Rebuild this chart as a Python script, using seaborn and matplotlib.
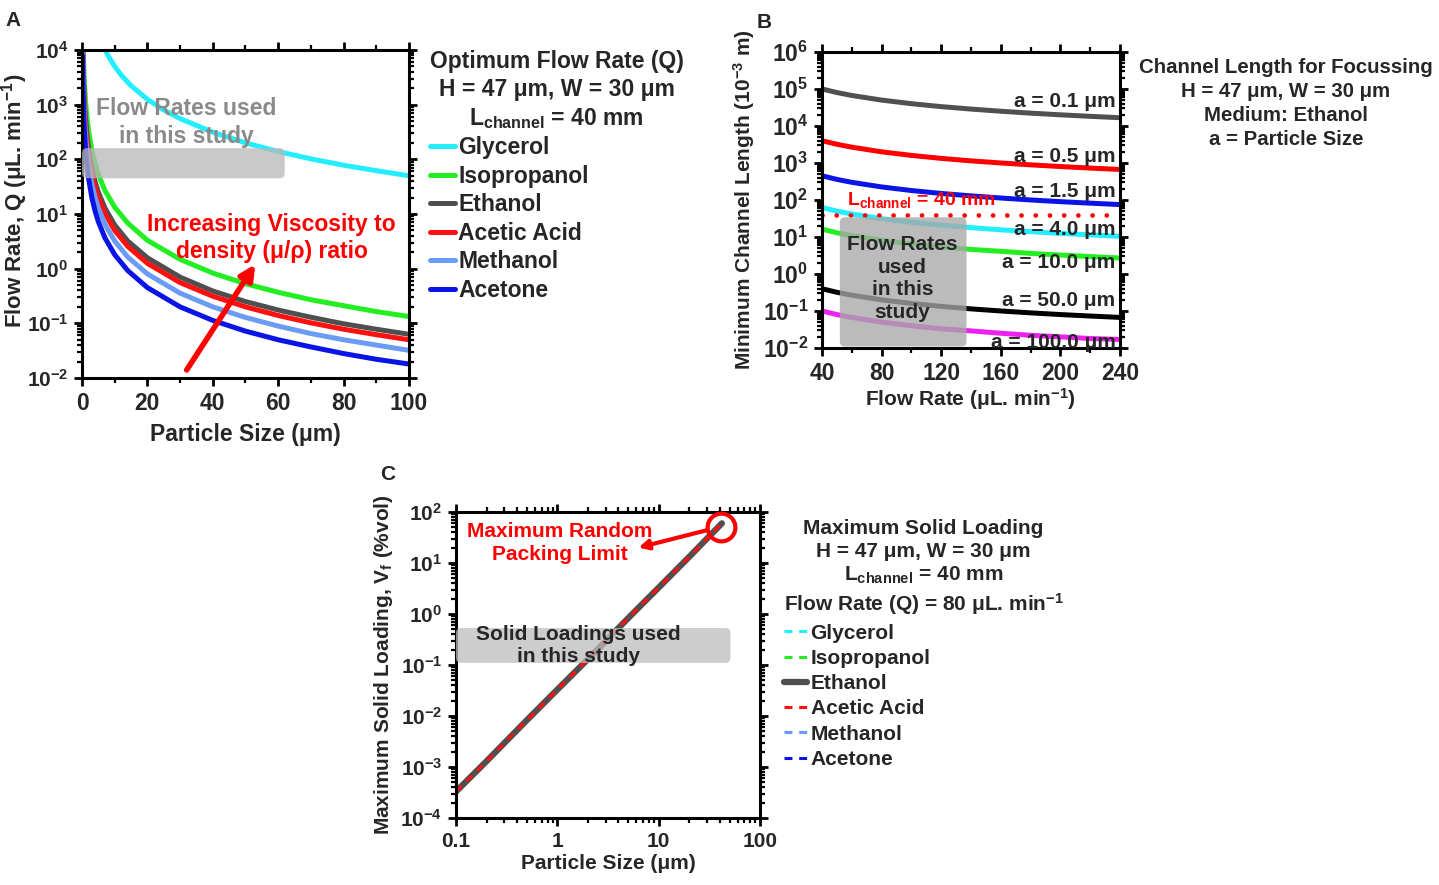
import numpy as np
import pandas as pd
import matplotlib
matplotlib.use('Agg')
import matplotlib.pyplot as plt
import seaborn as sns
from matplotlib.patches import FancyBboxPatch
from matplotlib.transforms import IdentityTransform
from matplotlib.lines import Line2D
from matplotlib.ticker import LogLocator, MultipleLocator, FuncFormatter, NullFormatter

# ---- panel A: optimum flow rate vs particle size ----
liquids = ['Glycerol', 'Isopropanol', 'Ethanol', 'Acetic Acid', 'Methanol', 'Acetone']
liquid_colors = ['#22eeff', '#22ee22', '#4f4f4f', '#ff1010', '#6a9cf5', '#0a14e6']

size_glycerol = [7, 8, 10, 12, 15, 20, 25, 30, 40, 50, 60, 70, 80, 90, 100]
q_glycerol = [10200, 7800, 5000, 3470, 2220, 1250, 800, 556, 313, 200, 139, 102, 78, 62, 50]

size_ipa = [0.37, 0.5, 0.75, 1, 1.5, 2, 3, 4, 5, 7, 10, 14, 20, 30, 40, 50, 60, 70, 80, 90, 100]
q_ipa = [9700, 5320, 2360, 1330, 591, 333, 148, 83, 53, 27, 13.3, 6.8, 3.3, 1.48, 0.83,
         0.53, 0.37, 0.27, 0.21, 0.164, 0.133]

size_common = [0.15, 0.2, 0.3, 0.5, 0.75, 1, 1.5, 2, 3, 4, 5, 7, 10, 14, 20, 30, 40, 50,
               60, 70, 80, 90, 100]
q_ethanol = [28000, 15750, 7000, 2520, 1120, 630, 280, 158, 70, 39, 25, 12.9, 6.3, 3.2,
             1.58, 0.70, 0.39, 0.25, 0.175, 0.129, 0.098, 0.078, 0.063]
q_acetic = [22200, 12500, 5560, 2000, 889, 500, 222, 125, 55.6, 31.3, 20, 10.2, 5.0, 2.55,
            1.25, 0.556, 0.313, 0.2, 0.139, 0.102, 0.078, 0.062, 0.05]
q_methanol = [14200, 8000, 3560, 1280, 569, 320, 142, 80, 35.6, 20, 12.8, 6.5, 3.2, 1.63,
              0.8, 0.356, 0.2, 0.128, 0.089, 0.065, 0.05, 0.04, 0.032]
q_acetone = [8000, 4500, 2000, 720, 320, 180, 80, 45, 20, 11.3, 7.2, 3.67, 1.8, 0.92,
             0.45, 0.2, 0.113, 0.072, 0.05, 0.037, 0.028, 0.022, 0.018]

study_flow_a = [0, 62, 45, 160]   # x0, x1, y0, y1 of the shaded region

# ---- panel B: channel length vs flow rate ----
flow_b = [40, 50, 60, 80, 100, 120, 140, 160, 180, 200, 220, 240]
size_labels_b = ['a = 0.1 μm', 'a = 0.5 μm', 'a = 1.5 μm', 'a = 4.0 μm',
                 'a = 10.0 μm', 'a = 50.0 μm', 'a = 100.0 μm']
size_colors_b = ['#505050', '#ff0000', '#0a14e6', '#22eeff', '#22ee22', '#000000', '#ee22ee']
length_b = [
    [100000, 80000, 66700, 50000, 40000, 33300, 28600, 25000, 22200, 20000, 18200, 16700],
    [4000, 3200, 2670, 2000, 1600, 1330, 1140, 1000, 889, 800, 727, 667],
    [450, 360, 300, 225, 180, 150, 129, 113, 100, 90, 82, 75],
    [62.5, 50, 41.7, 31.3, 25, 20.8, 17.9, 15.6, 13.9, 12.5, 11.4, 10.4],
    [16.3, 13, 10.8, 8.1, 6.5, 5.4, 4.6, 4.1, 3.6, 3.25, 2.95, 2.7],
    [0.4, 0.32, 0.267, 0.2, 0.16, 0.133, 0.114, 0.1, 0.089, 0.08, 0.073, 0.067],
    [0.1, 0.08, 0.067, 0.05, 0.04, 0.033, 0.029, 0.025, 0.022, 0.02, 0.018, 0.017],
]
label_y_b = [46000, 1500, 168, 16, 2.1, 0.19, 0.014]
l_channel = 40
study_flow_b = [52, 137, 0.011, 34]

# ---- panel C: maximum solid loading ----
size_c = [0.1, 0.2, 0.5, 1, 2, 5, 10, 20, 42]
vf_c = [0.00033, 0.0013, 0.0083, 0.033, 0.13, 0.83, 3.3, 13.2, 60]
packing_limit = (41, 51)
study_loading_c = [0.1, 51, 0.11, 0.53]

sns.set_theme(style='ticks')
plt.rcParams['font.family'] = ['Liberation Sans', 'DejaVu Sans']
plt.rcParams['font.weight'] = 'bold'
plt.rcParams['axes.labelweight'] = 'bold'
plt.rcParams['mathtext.fontset'] = 'custom'
for k in ['rm', 'it', 'bf', 'sf']:
    plt.rcParams['mathtext.' + k] = 'Liberation Sans:bold'

fig = plt.figure(figsize=(14.39, 8.85), dpi=100)
axA = fig.add_axes([0.0570, 0.5729, 0.2272, 0.3706])
axB = fig.add_axes([0.5712, 0.6068, 0.2071, 0.3345])
axC = fig.add_axes([0.3169, 0.0757, 0.2113, 0.3458])

pow_fmt = FuncFormatter(lambda v, p: r'$\mathbf{10^{%d}}$' % int(round(np.log10(v))))


def style_axes(ax, fs):
    for s in ax.spines.values():
        s.set_linewidth(2.2)
        s.set_color('black')
        s.set_visible(True)
    ax.tick_params(which='both', direction='out', top=True, right=True,
                   width=2, color='black', labelsize=fs, pad=4)
    ax.tick_params(which='major', length=6)
    ax.tick_params(which='minor', length=3.5, width=1.6)


def log_y(ax):
    ax.set_yscale('log')
    ax.yaxis.set_major_locator(LogLocator(base=10, numticks=30))
    ax.yaxis.set_minor_locator(LogLocator(base=10, subs=np.arange(2, 10), numticks=300))
    ax.yaxis.set_major_formatter(pow_fmt)
    ax.yaxis.set_minor_formatter(NullFormatter())


def rounded_box(ax, x0, x1, y0, y1, color, alpha, z):
    (px0, py0), (px1, py1) = ax.transData.transform([(x0, y0), (x1, y1)])
    box = FancyBboxPatch((px0, py0), px1 - px0, py1 - py0,
                         boxstyle='round,pad=0,rounding_size=5',
                         transform=IdentityTransform(), facecolor=color,
                         edgecolor='none', alpha=alpha, zorder=z)
    ax.add_patch(box)


# ================= Panel A =================
FA = 16.5
ax = axA
log_y(ax)
series_a = [(size_glycerol, q_glycerol), (size_ipa, q_ipa), (size_common, q_ethanol),
            (size_common, q_acetic), (size_common, q_methanol), (size_common, q_acetone)]
handles_a = []
for name, col, (xs, ys) in zip(liquids, liquid_colors, series_a):
    sns.lineplot(x=xs, y=ys, ax=ax, color=col, lw=3.6, sort=False, estimator=None,
                 legend=False)
    ln = ax.lines[-1]
    ln.set_solid_capstyle('round')
    handles_a.append(ln)
ax.set_xlim(0, 100)
ax.set_ylim(1e-2, 1e4)
ax.xaxis.set_major_locator(MultipleLocator(20))
ax.xaxis.set_minor_locator(MultipleLocator(10))
style_axes(ax, FA)
ax.tick_params(axis='y', labelsize=15)
ax.set_xlabel('Particle Size (μm)', fontsize=FA, labelpad=6)
ax.set_ylabel(r'Flow Rate, Q (μL. min$^{\mathbf{-1}}$)', fontsize=16)
ax.yaxis.set_label_coords(-0.16, 0.54)
rounded_box(ax, study_flow_a[0], study_flow_a[1], study_flow_a[2], study_flow_a[3],
            '#b8b8b8', 0.75, 3)
ax.text(32, 470, 'Flow Rates used\nin this study', color='#8a8a8a', fontsize=FA,
        ha='center', va='center', linespacing=1.25, zorder=4)
ax.text(58, 3.6, 'Increasing Viscosity to\ndensity (μ/ρ) ratio', color='#ff0000',
        fontsize=FA, ha='center', va='center', linespacing=1.25, zorder=5)
ax.annotate('', xy=(53, 1.2), xytext=(32, 0.014),
            arrowprops=dict(arrowstyle='-|>', color='#ff0000', lw=4, mutation_scale=22,
                            shrinkA=0, shrinkB=0, capstyle='round'), zorder=5)
legA = ax.legend(handles_a, liquids, loc='upper left', bbox_to_anchor=(0.2985, 0.943),
                 bbox_transform=fig.transFigure, frameon=False, fontsize=FA,
                 handlelength=1.1, handletextpad=0.15, labelspacing=0.24, borderpad=0,
                 borderaxespad=0, alignment='left',
                 title='Optimum Flow Rate (Q)\nH = 47 μm, W = 30 μm\n'
                       r'L$_{\mathbf{channel}}$ = 40 mm',
                 title_fontproperties={'weight': 'bold', 'size': FA})
legA.get_title().set_multialignment('center')
legA.get_title().set_linespacing(1.25)

# ================= Panel B =================
ax = axB
log_y(ax)
for lab, col, ys in zip(size_labels_b, size_colors_b, length_b):
    sns.lineplot(x=flow_b, y=ys, ax=ax, color=col, lw=3.6, sort=False, estimator=None,
                 legend=False)
ax.set_xlim(40, 240)
ax.set_ylim(1e-2, 1e6)
sns.lineplot(x=[flow_b[0], flow_b[-1]], y=[l_channel, l_channel], ax=ax, color='#ff0000',
             lw=3.4, linestyle=(0, (0.01, 3.0)), dash_capstyle='round', legend=False)
ax.xaxis.set_major_locator(MultipleLocator(40))
ax.xaxis.set_minor_locator(MultipleLocator(20))
style_axes(ax, 16.5)
ax.set_xlabel('Flow Rate (μL. min$^{\\mathbf{-1}}$)', fontsize=15, labelpad=1)
ax.set_ylabel(r'Minimum Channel Length (10$^{\mathbf{-3}}$ m)', fontsize=15, labelpad=4)
for lab, ly in zip(size_labels_b, label_y_b):
    ax.text(237, ly, lab, fontsize=15, ha='right', va='center', zorder=6)
ax.text(57, 100, r'L$_{\mathbf{channel}}$ = 40 mm', color='#ff0000', fontsize=14,
        ha='left', va='center', zorder=6)
rounded_box(ax, study_flow_b[0], study_flow_b[1], study_flow_b[2], study_flow_b[3],
            '#a8a8a8', 0.78, 4)
ax.text(94, 0.75, 'Flow Rates\nused\nin this\nstudy', fontsize=15, ha='center',
        va='center', linespacing=1.23, zorder=6)
fig.text(0.8937, 0.934, 'Channel Length for Focussing\nH = 47 μm, W = 30 μm\n'
         'Medium: Ethanol\na = Particle Size', fontsize=14.7, ha='center', va='top',
         linespacing=1.33)

# ================= Panel C =================
FC = 15
ax = axC
ax.set_xscale('log')
log_y(ax)
handles_c = {}
sns.lineplot(x=size_c, y=vf_c, ax=ax, color='#4f4f4f', lw=4.5, sort=False, estimator=None,
             legend=False)
handles_c['Ethanol'] = ax.lines[-1]
for name, col in zip(liquids, liquid_colors):
    if name in ('Ethanol', 'Acetic Acid'):
        continue
    sns.lineplot(x=size_c, y=vf_c, ax=ax, color=col, lw=2.2, linestyle=(0, (2.6, 2.2)),
                 sort=False, estimator=None, legend=False)
    handles_c[name] = ax.lines[-1]
    ax.lines[-1].set_visible(False)
sns.lineplot(x=size_c, y=vf_c, ax=ax, color='#ff1010', lw=2.2, linestyle=(0, (2.6, 2.2)),
             sort=False, estimator=None, legend=False)
handles_c['Acetic Acid'] = ax.lines[-1]
ax.set_xlim(0.1, 100)
ax.set_ylim(1e-4, 1e2)
ax.xaxis.set_major_locator(LogLocator(base=10, numticks=30))
ax.xaxis.set_minor_locator(LogLocator(base=10, subs=np.arange(2, 10), numticks=300))
ax.xaxis.set_major_formatter(FuncFormatter(lambda v, p: '%g' % v))
ax.xaxis.set_minor_formatter(NullFormatter())
style_axes(ax, FC)
ax.set_xlabel('Particle Size (μm)', fontsize=FC, labelpad=2)
ax.set_ylabel(r'Maximum Solid Loading, V$_{\mathbf{f}}$ (%vol)', fontsize=FC, labelpad=4)
rounded_box(ax, study_loading_c[0], study_loading_c[1], study_loading_c[2],
            study_loading_c[3], '#bdbdbd', 0.75, 3)
ax.text(1.6, 0.24, 'Solid Loadings used\nin this study', fontsize=FC, ha='center',
        va='center', linespacing=1.25, zorder=5)
ax.plot([packing_limit[0]], [packing_limit[1]], marker='o', ms=20, mfc='none',
        mec='#ff0000', mew=3, zorder=6, clip_on=False)
ax.annotate('', xy=(6.3, 20), xytext=(30, 44),
            arrowprops=dict(arrowstyle='-|>', color='#ff0000', lw=3, mutation_scale=14,
                            shrinkA=0, shrinkB=0), zorder=6)
ax.text(1.06, 25, 'Maximum Random\nPacking Limit', color='#ff0000', fontsize=FC,
        ha='center', va='center', linespacing=1.25, zorder=6)
proxies = []
for n in liquids:
    h = handles_c[n]
    ls = '-' if n == 'Ethanol' else (0, (2.6, 2.2))
    proxies.append(Line2D([], [], color=h.get_color(), lw=h.get_linewidth(), linestyle=ls))
legC = ax.legend(proxies, liquids, loc='upper left', bbox_to_anchor=(0.5445, 0.4135),
                 bbox_transform=fig.transFigure, frameon=False, fontsize=15,
                 handlelength=1.15, handletextpad=0.15, labelspacing=0.3, borderpad=0,
                 borderaxespad=0, alignment='left',
                 title='Maximum Solid Loading\nH = 47 μm, W = 30 μm\n'
                       r'L$_{\mathbf{channel}}$ = 40 mm' + '\n'
                       r'Flow Rate (Q) = 80 μL. min$^{\mathbf{-1}}$',
                 title_fontproperties={'weight': 'bold', 'size': 15})
legC.get_title().set_multialignment('center')
legC.get_title().set_linespacing(1.26)

# panel letters
fig.text(0.004, 0.988, 'A', fontsize=15, weight='bold', va='top')
fig.text(0.526, 0.985, 'B', fontsize=15, weight='bold', va='top')
fig.text(0.264, 0.475, 'C', fontsize=15, weight='bold', va='top')

fig.savefig('out.png', dpi=100)
